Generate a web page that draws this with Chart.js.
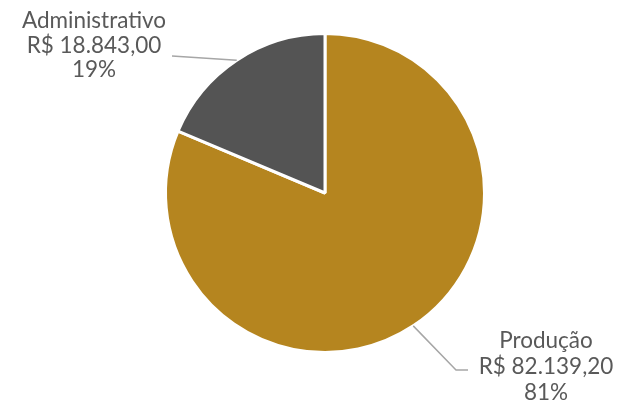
<!DOCTYPE html>
<html>
<head>
<meta charset="utf-8">
<script src="https://cdn.jsdelivr.net/npm/chart.js@4/dist/chart.umd.min.js"></script>
<style>
html,body{margin:0;padding:0;background:#fff;}
#wrap{width:621px;height:403px;position:relative;}
</style>
</head>
<body>
<div id="wrap"><canvas id="c"></canvas></div>
<script>
const categories = ["Produção", "Administrativo"];
const values = [82139.20, 18843.00];
const colors = ["#B5851F", "#545454"];

function fmtBRL(v){
  return "R$ " + v.toLocaleString("pt-BR",{minimumFractionDigits:2, maximumFractionDigits:2});
}

// label placement (styling): elbow/end of leader and text anchor
const labelLayout = [
  {elbow:[456,370], end:[468,370], text:[546,341], lineH:26},
  {elbow:null, end:[172,56], text:[94,21], lineH:24.5}
];

const labelPlugin = {
  id:'pieLabels',
  afterDatasetsDraw(chart){
    const ctx = chart.ctx;
    const meta = chart.getDatasetMeta(0);
    const total = values.reduce((a,b)=>a+b,0);
    meta.data.forEach((arc,i)=>{
      const p = arc.getProps(['x','y','startAngle','endAngle','outerRadius'],true);
      const mid = (p.startAngle+p.endAngle)/2;
      const sx = p.x + Math.cos(mid)*p.outerRadius;
      const sy = p.y + Math.sin(mid)*p.outerRadius;
      const L = labelLayout[i];
      ctx.save();
      ctx.strokeStyle = "#A6A6A6";
      ctx.lineWidth = 1.5;
      ctx.beginPath();
      ctx.moveTo(sx,sy);
      if(L.elbow) ctx.lineTo(L.elbow[0],L.elbow[1]);
      ctx.lineTo(L.end[0],L.end[1]);
      ctx.stroke();
      ctx.fillStyle = "#595959";
      ctx.font = "22.5px Lato";
      ctx.textAlign = "center";
      ctx.textBaseline = "middle";
      const pct = Math.round(values[i]/total*100)+"%";
      const lines = [categories[i], fmtBRL(values[i]), pct];
      lines.forEach((t,k)=>ctx.fillText(t, L.text[0], L.text[1]+k*L.lineH));
      ctx.restore();
    });
  }
};

new Chart(document.getElementById('c'),{
  type:'pie',
  data:{
    labels:categories,
    datasets:[{data:values, backgroundColor:colors, borderColor:"#ffffff", borderWidth:3}]
  },
  options:{
    responsive:true,
    maintainAspectRatio:false,
    animation:false,
    layout:{padding:{left:164,right:135,top:32,bottom:49}},
    plugins:{legend:{display:false},tooltip:{enabled:false}}
  },
  plugins:[labelPlugin]
});
</script>
</body>
</html>
